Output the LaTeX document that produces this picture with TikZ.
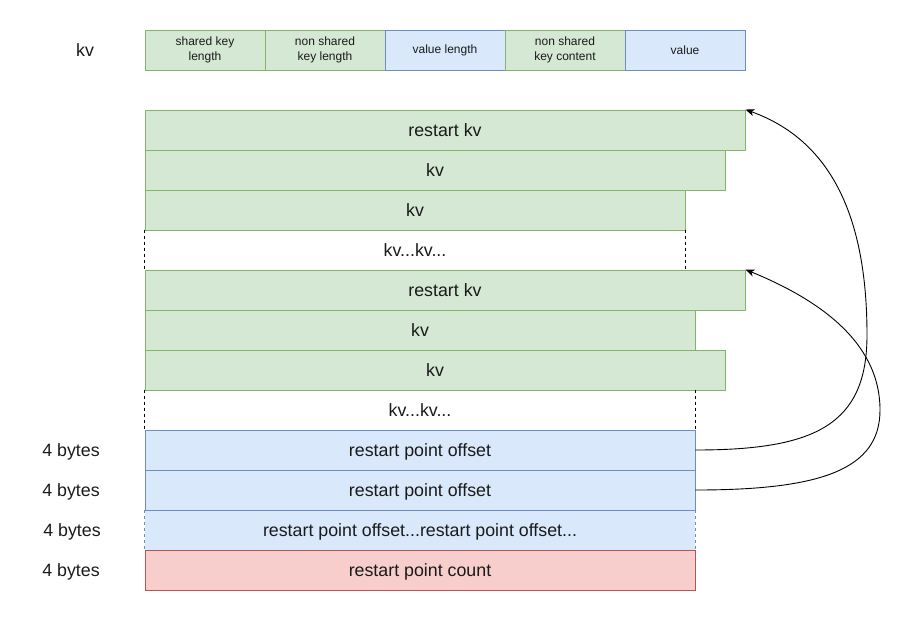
\documentclass[tikz,border=0pt]{standalone}
\usepackage{fontspec}
\setmainfont{Liberation Sans}
\usetikzlibrary{arrows.meta}

\definecolor{gfill}{HTML}{D5E8D4}
\definecolor{gline}{HTML}{82B366}
\definecolor{bfill}{HTML}{DAE8FC}
\definecolor{bline}{HTML}{6C8EBF}
\definecolor{rfill}{HTML}{F8CECC}
\definecolor{rline}{HTML}{B85450}
\definecolor{txt}{HTML}{1A1A1A}

\tikzset{
  cell/.style={rectangle, inner sep=0pt, minimum height=40pt, text=txt,
    font=\fontsize{17.8}{20}\selectfont, text height=12.7pt, text depth=0pt,
    line width=0.9pt},
  small/.style={rectangle, inner sep=0pt, minimum height=40pt, text=txt,
    line width=0.9pt, minimum width=120pt, align=center,
    font=\fontsize{12}{15.5}\selectfont},
  gcell/.style={fill=gfill, draw=gline},
  bcell/.style={fill=bfill, draw=bline},
  rcell/.style={fill=rfill, draw=rline},
  plain/.style={inner sep=0pt, text=txt, font=\fontsize{17.8}{20}\selectfont,
    text height=12.7pt, text depth=0pt},
  dashside/.style={line width=0.9pt, dash pattern=on 3pt off 3pt},
  link/.style={line width=0.9pt, -{Stealth[length=9pt,width=7pt,inset=2.5pt]}},
}

\begin{document}
\begin{tikzpicture}[x=1pt, y=-1pt]
\useasboundingbox (0,0) rectangle (910,622);

% layout of one key/value entry
\node[plain] (kvlabel) at (85,50) {kv};
\node[small, gcell] (f1) at (205,50) {shared key\\length};
\node[small, gcell] (f2) at (325,50) {non shared\\key length};
\node[small, bcell] (f3) at (445,50) {value length};
\node[small, gcell] (f4) at (565,50) {non shared\\key content};
\node[small, bcell] (f5) at (685,50) {value};

% entries of the block
\node[cell, gcell, minimum width=600pt] (r1) at (445,130) {restart kv};
\node[cell, gcell, minimum width=580pt] (r2) at (435,170) {kv};
\node[cell, gcell, minimum width=540pt] (r3) at (415,210) {kv};
\node[cell, minimum width=540pt] (r4) at (415,250) {kv...kv...};
\draw[dashside] (r4.north west) -- (r4.south west);
\draw[dashside] (r4.north east) -- (r4.south east);
\node[cell, gcell, minimum width=600pt] (r5) at (445,290) {restart kv};
\node[cell, gcell, minimum width=550pt] (r6) at (420,330) {kv};
\node[cell, gcell, minimum width=580pt] (r7) at (435,370) {kv};
\node[cell, minimum width=550pt] (r8) at (420,410) {kv...kv...};
\draw[dashside] (r8.north west) -- (r8.south west);
\draw[dashside] (r8.north east) -- (r8.south east);

% restart point trailer
\node[cell, fill=bfill, minimum width=550pt] (r11) at (420,530)
  {restart point offset...restart point offset...};
\draw[dashside, bline] (r11.north west) -- (r11.south west);
\draw[dashside, bline] (r11.north east) -- (r11.south east);
\node[cell, bcell, minimum width=550pt] (r9) at (420,450) {restart point offset};
\node[cell, bcell, minimum width=550pt] (r10) at (420,490) {restart point offset};
\node[cell, rcell, minimum width=550pt] (r12) at (420,570) {restart point count};

% sizes
\node[plain] (s1) at (71,450) {4 bytes};
\node[plain] (s2) at (71,490) {4 bytes};
\node[plain] (s3) at (72,530) {4 bytes};
\node[plain] (s4) at (71,570) {4 bytes};

% restart pointers
\draw[link] (r9.east) .. controls (815,450) and (867,425) .. (867,335)
  .. controls (867,215) and (830,140) .. (r1.north east);
\draw[link] (r10.east) .. controls (820,490) and (880,470) .. (880,410)
  .. controls (880,340) and (815,298) .. (r5.north east);
\end{tikzpicture}
\end{document}
